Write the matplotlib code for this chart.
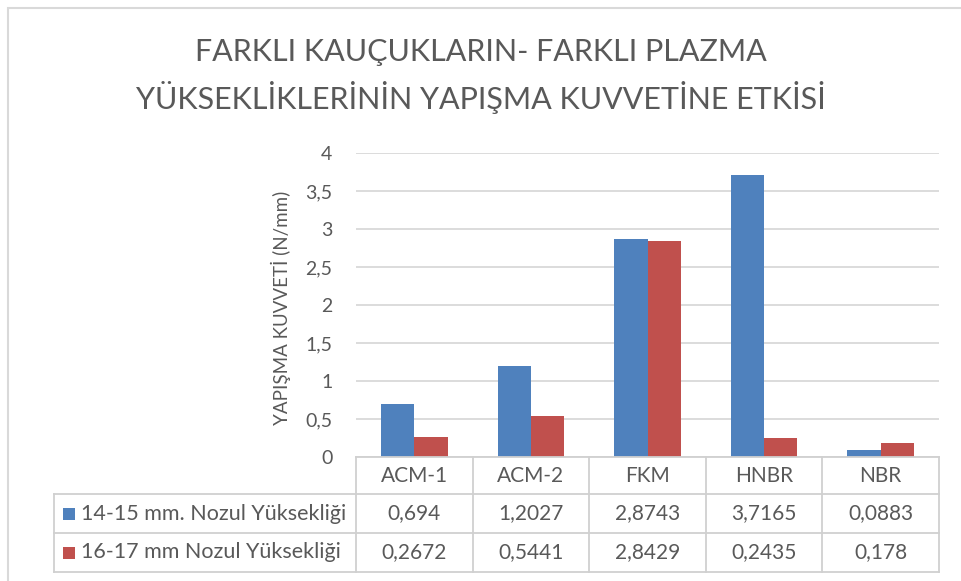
import matplotlib
matplotlib.use("Agg")
import matplotlib.pyplot as plt
import numpy as np
from matplotlib.transforms import blended_transform_factory

plt.rcParams['font.family'] = ['Lato', 'DejaVu Sans']

# data
categories = ['ACM-1', 'ACM-2', 'FKM', 'HNBR', 'NBR']
series_names = ['14-15 mm. Nozul Yüksekliği', '16-17 mm Nozul Yüksekliği']
s1 = [0.694, 1.2027, 2.8743, 3.7165, 0.0883]
s2 = [0.2672, 0.5441, 2.8429, 0.2435, 0.178]
s1_labels = ['0,694', '1,2027', '2,8743', '3,7165', '0,0883']
s2_labels = ['0,2672', '0,5441', '2,8429', '0,2435', '0,178']
yticks = [0, 0.5, 1, 1.5, 2, 2.5, 3, 3.5, 4]
colors = ['#4f81bd', '#c0504d']
title = 'FARKLI KAUÇUKLARIN- FARKLI PLAZMA\nYÜKSEKLİKLERİNİN YAPIŞMA KUVVETİNE ETKİSİ'
ylabel = 'YAPIŞMA KUVVETİ (N/mm)'

W, H = 961, 581
fig = plt.figure(figsize=(W / 100, H / 100), dpi=100)
txt = '#595959'
line_c = '#d9d9d9'


def fx(px):
    return px / W


def fy(py):
    return 1 - py / H


# plot area in pixels
left, right, top, bottom = 356, 939, 153, 457
ax = fig.add_axes([fx(left), fy(bottom), fx(right - left), (bottom - top) / H])

x = np.arange(len(categories))
bw = 1 / 3.5
ax.bar(x - bw / 2, s1, bw, color=colors[0], zorder=3)
ax.bar(x + bw / 2, s2, bw, color=colors[1], zorder=3)
ax.set_xlim(-0.5, len(categories) - 0.5)
ax.set_ylim(0, 4)
ax.set_yticks(yticks)
ax.set_yticklabels([f'{t:g}'.replace('.', ',') for t in yticks], color=txt, fontsize=14)
ax.tick_params(axis='y', length=0, pad=17)
ax.set_xticks([])
ax.grid(axis='y', color=line_c, linewidth=1.3, zorder=0)
for s in ax.spines.values():
    s.set_visible(False)

fig.text(fx(281), fy(308), ylabel, rotation=90, ha='center', va='center',
         color=txt, fontsize=13.5)

fig.text(0.5, fy(76), title, ha='center', va='center', fontsize=22,
         color=txt, linespacing=1.55)

# outer chart border (only top and left are inside the picture)
fig.patches.append(plt.Rectangle((fx(8), fy(620)), fx(1000), (620 - 8) / H,
                                 transform=fig.transFigure, fill=False,
                                 edgecolor='#d9d9d9', linewidth=1.5))

# data table
tc = '#d0d0d0'
row_y = [457, 494, 533, 572]
tab_left = 54
for yy in row_y[1:]:
    fig.add_artist(plt.Line2D([fx(tab_left), fx(right)], [fy(yy), fy(yy)],
                              color=tc, linewidth=1.3))
fig.add_artist(plt.Line2D([fx(left), fx(right)], [fy(bottom), fy(bottom)],
                          color=tc, linewidth=1.3))
fig.add_artist(plt.Line2D([fx(tab_left), fx(tab_left)], [fy(row_y[1]), fy(row_y[3])],
                          color=tc, linewidth=1.3))
bt = blended_transform_factory(ax.transData, fig.transFigure)
for b in np.arange(len(categories) + 1) - 0.5:
    fig.add_artist(plt.Line2D([b, b], [fy(row_y[0]), fy(row_y[3])],
                              color=tc, linewidth=1.3, transform=bt))

for i, c in enumerate(categories):
    fig.text(x[i], fy((row_y[0] + row_y[1]) / 2), c, transform=bt,
             ha='center', va='center', fontsize=15, color=txt)
    fig.text(x[i], fy((row_y[1] + row_y[2]) / 2), s1_labels[i], transform=bt,
             ha='center', va='center', fontsize=15, color=txt)
    fig.text(x[i], fy((row_y[2] + row_y[3]) / 2), s2_labels[i], transform=bt,
             ha='center', va='center', fontsize=15, color=txt)

for k, name in enumerate(series_names):
    yc = (row_y[k + 1] + row_y[k + 2]) / 2
    fig.patches.append(plt.Rectangle((fx(63), fy(yc + 6)), fx(12), 12 / H,
                                     transform=fig.transFigure,
                                     facecolor=colors[k], edgecolor='none'))
    fig.text(fx(81), fy(yc), name, ha='left', va='center', fontsize=15.5, color=txt)

fig.savefig('out.png', dpi=100)
